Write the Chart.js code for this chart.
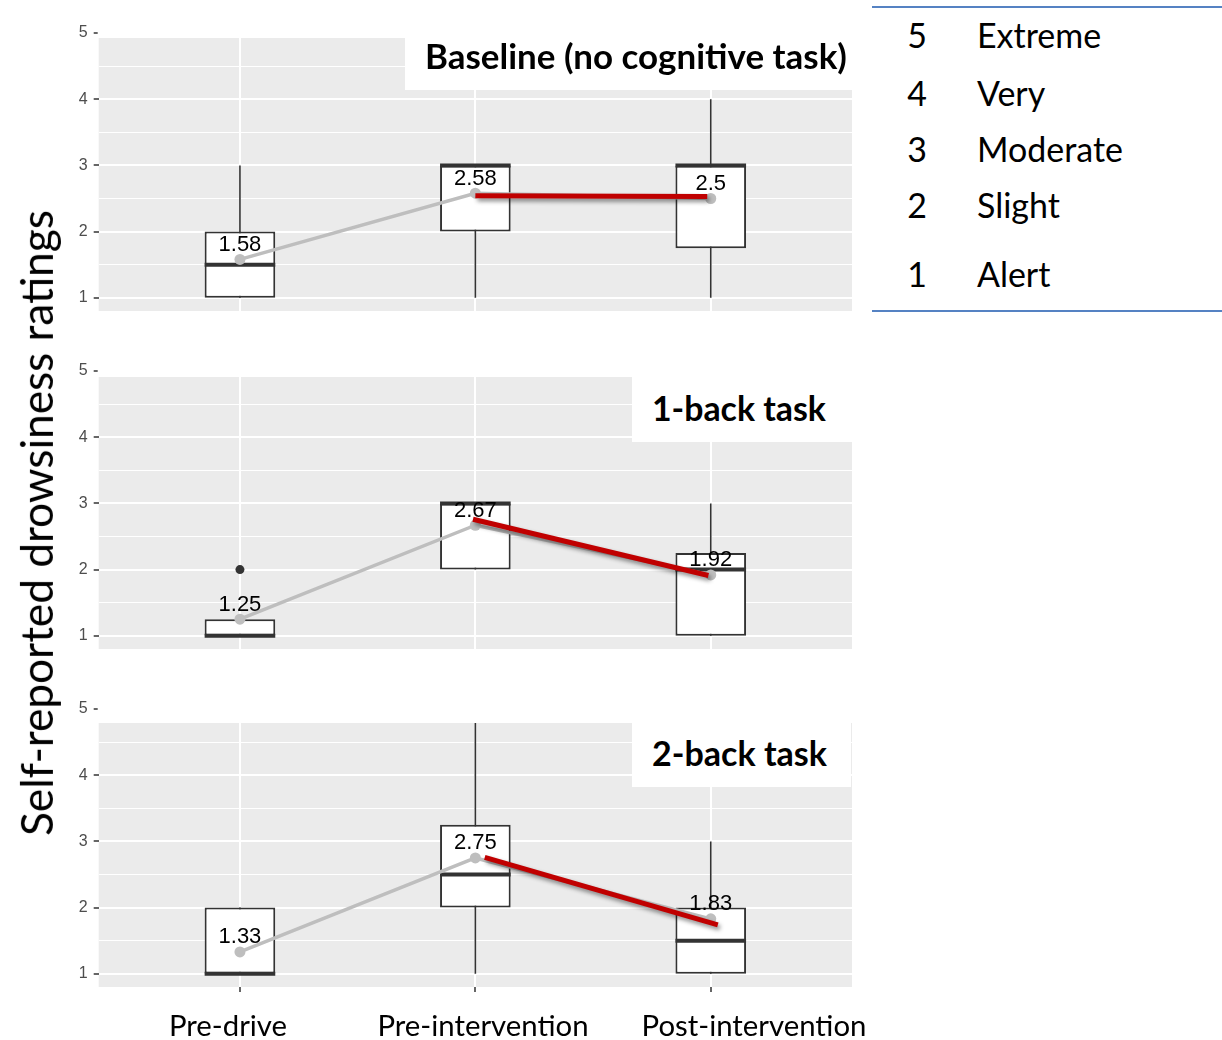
<!DOCTYPE html>
<html>
<head>
<meta charset="utf-8">
<script src="https://cdn.jsdelivr.net/npm/chart.js@4.4.1/dist/chart.umd.min.js"></script>
<style>
  html, body { margin: 0; padding: 0; background: #ffffff; }
  #page { position: relative; width: 1222px; height: 1040px; overflow: hidden; background: #ffffff; }
  #page canvas { position: absolute; left: 0; }
  .txt { position: absolute; white-space: nowrap; color: #000; line-height: 1; }
  .titlebox { position: absolute; background: #ffffff; }
  .rule { position: absolute; height: 2px; background: #5582c3; }
</style>
</head>
<body>
<div id="page"></div>
<script>
// ---- data ----
const categories = ['Pre-drive', 'Pre-intervention', 'Post-intervention'];
const panelTitles = ['Baseline (no cognitive task)', '1-back task', '2-back task'];
const yTickValues = [1, 2, 3, 4, 5];
const ratingLevels = ['5', '4', '3', '2', '1'];
const ratingNames = ['Extreme', 'Very', 'Moderate', 'Slight', 'Alert'];
const axisTitle = 'Self-reported drowsiness ratings';

// Baseline (no cognitive task)
const baselineLower  = [1, 1, 1];
const baselineQ1     = [1, 2, 1.75];
const baselineMedian = [1.5, 3, 3];
const baselineQ3     = [2, 3, 3];
const baselineUpper  = [3, 3, 4];
const baselineMean   = [1.58, 2.58, 2.5];
const baselineOutlierCat = [];
const baselineOutlierValue = [];
const baselineTrendX = [2, 2.985];
const baselineTrendY = [2.54, 2.53];

// 1-back task
const oneBackLower  = [1, 2, 1];
const oneBackQ1     = [1, 2, 1];
const oneBackMedian = [1, 3, 2];
const oneBackQ3     = [1.25, 3, 2.25];
const oneBackUpper  = [1.25, 3, 3];
const oneBackMean   = [1.25, 2.67, 1.92];
const oneBackOutlierCat = [1];
const oneBackOutlierValue = [2];
const oneBackTrendX = [1.99, 2.99];
const oneBackTrendY = [2.76, 1.91];

// 2-back task
const twoBackLower  = [1, 1, 1];
const twoBackQ1     = [1, 2, 1];
const twoBackMedian = [1, 2.5, 1.5];
const twoBackQ3     = [2, 3.25, 2];
const twoBackUpper  = [2, 5, 3];
const twoBackMean   = [1.33, 2.75, 1.83];
const twoBackOutlierCat = [];
const twoBackOutlierValue = [];
const twoBackTrendX = [2.04, 3.03];
const twoBackTrendY = [2.76, 1.74];

// ---- layout ----
const PX_PER_UNIT = 66;
const Y_MIN = 0.8, Y_MAX = 5.2;
const X_MIN = 0.4, X_MAX = 3.6;
const BOX_WIDTH = 0.3;
const AREA_LEFT = 98.7, AREA_RIGHT = 852, CANVAS_W = 870;
const PAD = 16;

const panels = [
  { lower: baselineLower, q1: baselineQ1, median: baselineMedian, q3: baselineQ3, upper: baselineUpper,
    mean: baselineMean, outCat: baselineOutlierCat, outVal: baselineOutlierValue, trendX: baselineTrendX, trendY: baselineTrendY },
  { lower: oneBackLower, q1: oneBackQ1, median: oneBackMedian, q3: oneBackQ3, upper: oneBackUpper,
    mean: oneBackMean, outCat: oneBackOutlierCat, outVal: oneBackOutlierValue, trendX: oneBackTrendX, trendY: oneBackTrendY },
  { lower: twoBackLower, q1: twoBackQ1, median: twoBackMedian, q3: twoBackQ3, upper: twoBackUpper,
    mean: twoBackMean, outCat: twoBackOutlierCat, outVal: twoBackOutlierValue, trendX: twoBackTrendX, trendY: twoBackTrendY }
];

const frames = [
  { yOne: 297, visibleTop: 38,  ticksBelow: false, box: [405, 38, 852, 90],  textX: 425, base: 70,  width: 422 },
  { yOne: 635, visibleTop: 377, ticksBelow: false, box: [632, 377, 852, 442], textX: 652, base: 422, width: 174 },
  { yOne: 973, visibleTop: 723, ticksBelow: true,  box: [632, 723, 851, 787], textX: 652, base: 767, width: 175 }
];

const SANS = 'Lato, "Open Sans", "Noto Sans", sans-serif';
const page = document.getElementById('page');
const measureCtx = document.createElement('canvas').getContext('2d');

// axis tick text
Chart.defaults.font.family = '"Liberation Sans", Arial, sans-serif';
Chart.defaults.font.size = 16;

function fitSize(text, weight, family, targetWidth) {
  measureCtx.font = weight + ' 100px ' + family;
  return 100 * targetWidth / measureCtx.measureText(text).width;
}

// place HTML text so that its baseline sits at the given y
function placeText(text, opts) {
  const size = opts.size;
  const weight = opts.weight || 'normal';
  const family = opts.family || SANS;
  measureCtx.font = weight + ' ' + size + 'px ' + family;
  const m = measureCtx.measureText(text);
  const asc = m.fontBoundingBoxAscent, desc = m.fontBoundingBoxDescent;
  const top = opts.baseline - (size - (asc + desc)) / 2 - asc;
  const el = document.createElement('div');
  el.className = 'txt';
  el.textContent = text;
  el.style.font = weight + ' ' + size + 'px ' + family;
  el.style.lineHeight = size + 'px';
  el.style.top = top + 'px';
  el.style.left = opts.x + 'px';
  if (opts.align === 'center') el.style.transform = 'translateX(-50%)';
  if (opts.align === 'right') el.style.transform = 'translateX(-100%)';
  page.appendChild(el);
  return el;
}

// ---- plugins ----
const panelBackground = {
  id: 'panelBackground',
  beforeDraw(chart) {
    const a = chart.chartArea, ctx = chart.ctx;
    ctx.save();
    ctx.fillStyle = '#ebebeb';
    ctx.fillRect(a.left, a.top, a.right - a.left, a.bottom - a.top);
    ctx.restore();
  }
};

const topCover = {
  id: 'topCover',
  afterDatasetsDraw(chart, args, opts) {
    const a = chart.chartArea, ctx = chart.ctx;
    ctx.save();
    ctx.fillStyle = '#ffffff';
    ctx.fillRect(a.left - 1, a.top - 2, a.right - a.left + 2, opts.until - a.top + 2);
    ctx.restore();
  }
};

const meanLabels = {
  id: 'meanLabels',
  afterDatasetsDraw(chart) {
    const ctx = chart.ctx;
    chart.data.datasets.forEach((ds, di) => {
      if (!ds.meanLabels) return;
      const meta = chart.getDatasetMeta(di);
      ctx.save();
      ctx.font = '22px "Liberation Sans", Arial, sans-serif';
      ctx.fillStyle = '#000000';
      ctx.textAlign = 'center';
      ctx.textBaseline = 'alphabetic';
      meta.data.forEach((pt, i) => {
        ctx.fillText(String(ds.data[i].y), pt.x, pt.y - 8.5);
      });
      ctx.restore();
    });
  }
};

const lineShadow = {
  id: 'lineShadow',
  beforeDatasetDraw(chart, args) {
    if (!chart.data.datasets[args.index].shadow) return;
    const ctx = chart.ctx;
    ctx.save();
    ctx.shadowColor = 'rgba(0,0,0,0.45)';
    ctx.shadowBlur = 4;
    ctx.shadowOffsetX = 2;
    ctx.shadowOffsetY = 3;
  },
  afterDatasetDraw(chart, args) {
    if (!chart.data.datasets[args.index].shadow) return;
    chart.ctx.restore();
  }
};

// ---- panels ----
function buildPanel(p, f) {
  const areaTop = f.yOne - (Y_MAX - 1) * PX_PER_UNIT;
  const areaH = (Y_MAX - Y_MIN) * PX_PER_UNIT;
  const canvasTop = Math.floor(areaTop - PAD);
  const padTop = areaTop - canvasTop;
  const xAxisH = f.ticksBelow ? 5 : 0;
  const canvasH = Math.ceil(padTop + areaH + xAxisH + PAD);

  const canvas = document.createElement('canvas');
  canvas.width = CANVAS_W;
  canvas.height = canvasH;
  canvas.style.top = canvasTop + 'px';
  canvas.style.width = CANVAS_W + 'px';
  canvas.style.height = canvasH + 'px';
  page.appendChild(canvas);

  const whiskers = [];
  const medians = [];
  categories.forEach((c, i) => {
    const x = i + 1;
    whiskers.push({ x, y: p.lower[i] }, { x, y: p.upper[i] }, { x, y: null });
    medians.push({ x: x - BOX_WIDTH / 2, y: p.median[i] }, { x: x + BOX_WIDTH / 2, y: p.median[i] }, { x, y: null });
  });

  const yTicks = [];
  yTickValues.forEach((v, i) => {
    yTicks.push({ value: v });
    if (i < yTickValues.length - 1) yTicks.push({ value: (v + yTickValues[i + 1]) / 2 });
  });
  const isMajor = v => yTickValues.includes(v);

  new Chart(canvas, {
    type: 'bar',
    data: {
      datasets: [
        { type: 'line', label: 'Whiskers', data: whiskers, borderColor: '#333333', borderWidth: 1.6,
          pointRadius: 0, spanGaps: false, order: 6 },
        { type: 'bar', label: 'Boxes', data: categories.map((c, i) => ({ x: i + 1, y: [p.q1[i], p.q3[i]] })),
          backgroundColor: '#ffffff', borderColor: '#333333', borderWidth: 2, borderSkipped: false,
          barPercentage: BOX_WIDTH, categoryPercentage: 1, order: 5 },
        { type: 'line', label: 'Medians', data: medians, borderColor: '#333333', borderWidth: 4,
          borderCapStyle: 'butt', pointRadius: 0, spanGaps: false, order: 4 },
        { type: 'line', label: 'Outliers', data: p.outCat.map((c, i) => ({ x: c, y: p.outVal[i] })),
          showLine: false, pointRadius: 4.5, pointBackgroundColor: '#333333', pointBorderWidth: 0, order: 4 },
        { type: 'line', label: 'Mean', data: categories.map((c, i) => ({ x: i + 1, y: p.mean[i] })),
          borderColor: '#bebebe', borderWidth: 3.5, pointRadius: 5.5, pointBackgroundColor: '#bebebe',
          pointBorderWidth: 0, order: 3, meanLabels: true },
        { type: 'line', label: 'Change', data: p.trendX.map((x, i) => ({ x, y: p.trendY[i] })),
          borderColor: '#c00000', borderWidth: 5, borderCapStyle: 'butt', pointRadius: 0, order: 1, shadow: true }
      ]
    },
    options: {
      responsive: false,
      animation: false,
      events: [],
      devicePixelRatio: 1,
      layout: { padding: { top: padTop, bottom: PAD, left: 0, right: CANVAS_W - AREA_RIGHT } },
      plugins: {
        legend: { display: false },
        tooltip: { enabled: false },
        title: { display: false },
        topCover: { until: f.visibleTop - canvasTop }
      },
      scales: {
        x: {
          type: 'linear', min: X_MIN, max: X_MAX, offset: false,
          afterBuildTicks: s => { s.ticks = categories.map((c, i) => ({ value: i + 1 })); },
          afterFit: s => { s.height = xAxisH; },
          ticks: { display: false },
          grid: { color: '#ffffff', lineWidth: 2, offset: false, drawTicks: f.ticksBelow,
                  tickLength: 5, tickColor: '#333333', tickWidth: 1.5 },
          border: { display: false }
        },
        y: {
          type: 'linear', min: Y_MIN, max: Y_MAX,
          afterBuildTicks: s => { s.ticks = yTicks.map(t => ({ value: t.value })); },
          afterFit: s => { s.width = AREA_LEFT; },
          ticks: {
            color: '#4d4d4d', padding: 6, autoSkip: false,
            callback: v => isMajor(v) ? String(v) : ''
          },
          grid: {
            color: '#ffffff',
            lineWidth: ctx => (ctx.tick && isMajor(ctx.tick.value)) ? 2 : 1,
            tickColor: ctx => (ctx.tick && isMajor(ctx.tick.value)) ? '#333333' : 'rgba(0,0,0,0)',
            tickLength: 5, tickWidth: 1.5, drawTicks: true
          },
          border: { display: false }
        }
      }
    },
    plugins: [panelBackground, lineShadow, topCover, meanLabels]
  });
}

panels.forEach((p, i) => buildPanel(p, frames[i]));

// panel titles in white boxes
frames.forEach((f, i) => {
  const b = document.createElement('div');
  b.className = 'titlebox';
  b.style.left = f.box[0] + 'px';
  b.style.top = f.box[1] + 'px';
  b.style.width = (f.box[2] - f.box[0]) + 'px';
  b.style.height = (f.box[3] - f.box[1]) + 'px';
  page.appendChild(b);
  const size = fitSize(panelTitles[i], 'bold', SANS, f.width);
  placeText(panelTitles[i], { x: f.textX, baseline: f.base, size: i === 0 ? size : Math.min(size, fitSize(panelTitles[0], 'bold', SANS, frames[0].width)), weight: 'bold' });
});

// category labels under the bottom panel
const catCentres = [228, 483, 754];
const catSize = fitSize(categories[2], 'normal', SANS, 225);
categories.forEach((c, i) => placeText(c, { x: catCentres[i], baseline: 1036, size: catSize, align: 'center' }));

// rotated axis title
(function () {
  const size = fitSize(axisTitle, 'normal', SANS, 626);
  const el = document.createElement('div');
  el.className = 'txt';
  el.textContent = axisTitle;
  el.style.font = 'normal ' + size + 'px ' + SANS;
  el.style.lineHeight = size + 'px';
  el.style.left = '36px';
  el.style.top = '523px';
  el.style.transform = 'translate(-50%, -50%) rotate(-90deg)';
  page.appendChild(el);
})();

// rating scale table
(function () {
  const top = document.createElement('div');
  top.className = 'rule';
  top.style.left = '872px'; top.style.top = '6px'; top.style.width = '350px';
  page.appendChild(top);
  const bottom = document.createElement('div');
  bottom.className = 'rule';
  bottom.style.left = '872px'; bottom.style.top = '310px'; bottom.style.width = '350px';
  page.appendChild(bottom);
  const size = fitSize('Moderate', 'normal', SANS, 146);
  const baselines = [48, 106, 162, 218, 287];
  ratingLevels.forEach((lvl, i) => {
    placeText(lvl, { x: 917, baseline: baselines[i], size, align: 'center' });
    placeText(ratingNames[i], { x: 977, baseline: baselines[i], size });
  });
})();
</script>
</body>
</html>
